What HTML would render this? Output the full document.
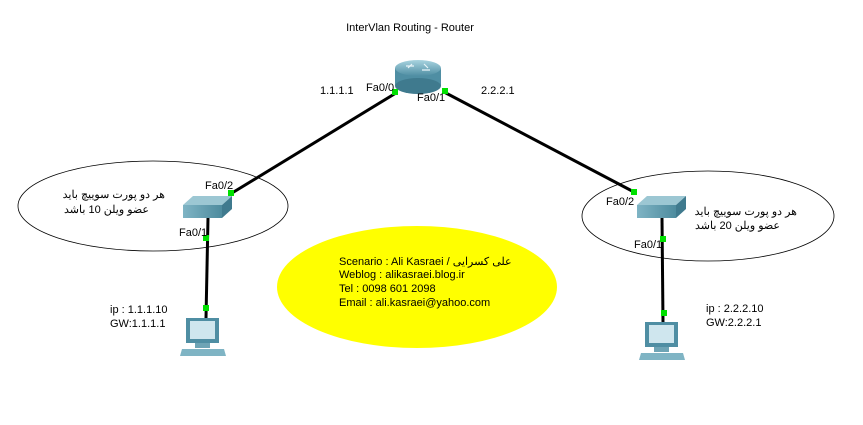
<!DOCTYPE html>
<html><head><meta charset="utf-8"><style>
body{margin:0;background:#fff;width:863px;height:420px;overflow:hidden}
text{font-family:"Liberation Sans","Noto Sans CJK SC",sans-serif;font-size:11px;fill:#000}
</style></head><body>
<svg width="863" height="420" viewBox="0 0 863 420">
<defs>
<linearGradient id="rg" x1="0" y1="0" x2="0" y2="1"><stop offset="0" stop-color="#a9d4e0"/><stop offset="1" stop-color="#4f8ea3"/></linearGradient>
<linearGradient id="sg" x1="0" y1="0" x2="1" y2="0"><stop offset="0" stop-color="#7fb4c4"/><stop offset="1" stop-color="#4d8b9e"/></linearGradient>
</defs>
<text x="410" y="31" text-anchor="middle">InterVlan Routing - Router</text>
<ellipse cx="153" cy="206" rx="135" ry="45" fill="none" stroke="#000" stroke-width="0.8"/>
<ellipse cx="708" cy="216" rx="126" ry="45" fill="none" stroke="#000" stroke-width="0.8"/>
<ellipse cx="417" cy="287" rx="140" ry="61" fill="#ffff00"/>
<line x1="396" y1="93" x2="232" y2="193" stroke="#000" stroke-width="3"/>
<line x1="444" y1="92" x2="634" y2="192" stroke="#000" stroke-width="3"/>
<line x1="208" y1="218" x2="206" y2="318" stroke="#000" stroke-width="3"/>
<line x1="662" y1="218" x2="663" y2="322" stroke="#000" stroke-width="3"/>
<rect x="395" y="68" width="46" height="18" fill="#4f8ea3"/>
<ellipse cx="418" cy="86" rx="23" ry="8" fill="#3f7a8e"/>
<ellipse cx="418" cy="68" rx="23" ry="8" fill="url(#rg)"/>
<path d="M406 66h8M422 70h8M412 64l-4 4M424 64l4 4" stroke="#e8f4f8" stroke-width="1.2"/>
<polygon points="193,196 232,196 222,205 183,205" fill="#9cc7d3"/>
<rect x="183" y="205" width="39" height="13" fill="url(#sg)"/>
<polygon points="222,205 232,196 232,209 222,218" fill="#3f7a8e"/>
<polygon points="647,196 686,196 676,205 637,205" fill="#9cc7d3"/>
<rect x="637" y="205" width="39" height="13" fill="url(#sg)"/>
<polygon points="676,205 686,196 686,209 676,218" fill="#3f7a8e"/>
<g transform="translate(180,318)">
<rect x="6" y="0" width="33" height="25" fill="#4f8ea3"/><rect x="10" y="3" width="25" height="18" fill="#cfe6ee"/>
<rect x="15" y="25" width="15" height="5" fill="#6ea4b5"/><polygon points="2,31 44,31 46,38 0,38" fill="#7fb4c4"/>
</g>
<g transform="translate(639,322)">
<rect x="6" y="0" width="33" height="25" fill="#4f8ea3"/><rect x="10" y="3" width="25" height="18" fill="#cfe6ee"/>
<rect x="15" y="25" width="15" height="5" fill="#6ea4b5"/><polygon points="2,31 44,31 46,38 0,38" fill="#7fb4c4"/>
</g>
<g fill="#00e000">
<rect x="392" y="89" width="6" height="6"/><rect x="442" y="88" width="6" height="6"/>
<rect x="228" y="190" width="6" height="6"/><rect x="203" y="235" width="6" height="6"/><rect x="203" y="305" width="6" height="6"/>
<rect x="631" y="189" width="6" height="6"/><rect x="660" y="236" width="6" height="6"/><rect x="661" y="310" width="6" height="6"/>
</g>
<text x="320" y="94">1.1.1.1</text>
<text x="366" y="91">Fa0/0</text>
<text x="417" y="101">Fa0/1</text>
<text x="481" y="94">2.2.2.1</text>
<text x="205" y="189">Fa0/2</text>
<text x="179" y="236">Fa0/1</text>
<text x="606" y="205">Fa0/2</text>
<text x="634" y="248">Fa0/1</text>
<text x="165" y="198" text-anchor="start" direction="rtl">هر دو پورت سوییچ باید</text>
<text x="149" y="213" text-anchor="start" direction="rtl">عضو ویلن 10 باشد</text>
<text x="797" y="215" text-anchor="start" direction="rtl">هر دو پورت سوییچ باید</text>
<text x="780" y="229" text-anchor="start" direction="rtl">عضو ویلن 20 باشد</text>
<text x="110" y="313">ip : 1.1.1.10</text>
<text x="110" y="327">GW:1.1.1.1</text>
<text x="706" y="312">ip : 2.2.2.10</text>
<text x="706" y="326">GW:2.2.2.1</text>
<text x="339" y="265">Scenario : Ali Kasraei / <tspan direction="rtl" unicode-bidi="embed">علی کسرایی</tspan></text>
<text x="339" y="278">Weblog : alikasraei.blog.ir</text>
<text x="339" y="292">Tel : 0098 601 2098</text>
<text x="339" y="306">Email : ali.kasraei@yahoo.com</text>
</svg>
</body></html>
